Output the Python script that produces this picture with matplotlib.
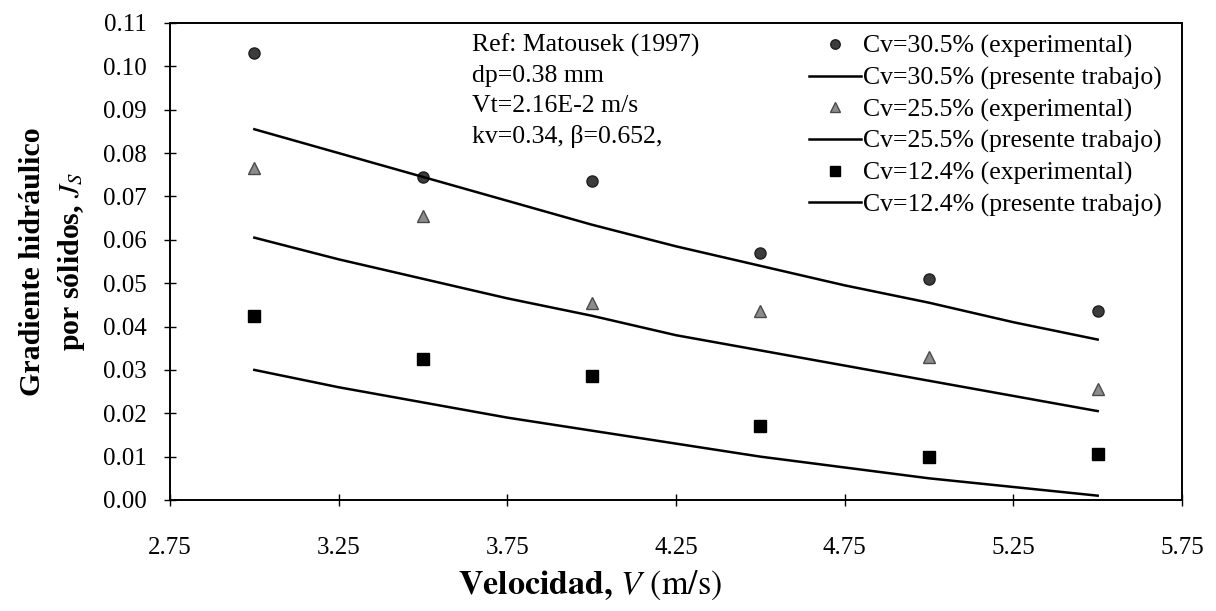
import matplotlib
matplotlib.use("Agg")
import matplotlib.pyplot as plt

# Experimental data
v_exp = [3.0, 3.5, 4.0, 4.5, 5.0, 5.5]
js_305_exp = [0.103, 0.0745, 0.0735, 0.057, 0.051, 0.0435]
js_255_exp = [0.0765, 0.0655, 0.0455, 0.0435, 0.033, 0.0255]
js_124_exp = [0.0425, 0.0325, 0.0285, 0.017, 0.010, 0.0105]

# Model (presente trabajo)
v_mod = [3.0, 3.25, 3.5, 3.75, 4.0, 4.25, 4.5, 4.75, 5.0, 5.25, 5.5]
js_305_mod = [0.0855, 0.080, 0.0745, 0.069, 0.0635, 0.0585, 0.054, 0.0495, 0.0455, 0.041, 0.037]
js_255_mod = [0.0605, 0.0555, 0.051, 0.0465, 0.0425, 0.038, 0.0345, 0.031, 0.0275, 0.024, 0.0205]
js_124_mod = [0.030, 0.026, 0.0225, 0.019, 0.016, 0.013, 0.010, 0.0075, 0.005, 0.003, 0.001]

x_ticks = [2.75, 3.25, 3.75, 4.25, 4.75, 5.25, 5.75]
y_ticks = [0.00, 0.01, 0.02, 0.03, 0.04, 0.05, 0.06, 0.07, 0.08, 0.09, 0.10, 0.11]

plt.rcParams['font.family'] = ['Liberation Serif', 'DejaVu Serif']
plt.rcParams['mathtext.fontset'] = 'stix'

W, H = 1216, 611
fig = plt.figure(figsize=(W / 100, H / 100), dpi=100)
L, R, T, B = 170, 1182, 23, 500
ax = fig.add_axes([L / W, 1 - B / H, (R - L) / W, (B - T) / H])

ax.plot(v_exp, js_305_exp, 'o', color='#3c3c3c', ms=8, mec='#1e1e1e', mew=1.0,
        label='Cv=30.5% (experimental)')
ax.plot(v_mod, js_305_mod, '-', color='black', lw=1.8, label='Cv=30.5% (presente trabajo)')
ax.plot(v_exp, js_255_exp, '^', color='#8c8c8c', ms=8, mec='#4a4a4a', mew=1.0,
        label='Cv=25.5% (experimental)')
ax.plot(v_mod, js_255_mod, '-', color='black', lw=1.8, label='Cv=25.5% (presente trabajo)')
ax.plot(v_exp, js_124_exp, 's', color='black', ms=9, label='Cv=12.4% (experimental)')
ax.plot(v_mod, js_124_mod, '-', color='black', lw=1.8, label='Cv=12.4% (presente trabajo)')

ax.set_xlim(2.75, 5.75)
ax.set_ylim(0.0, 0.11)
ax.set_xticks(x_ticks)
ax.set_xticklabels([f"{t:.2f}" for t in x_ticks])
ax.set_yticks(y_ticks)
ax.set_yticklabels([f"{t:.2f}" for t in y_ticks])
ax.tick_params(axis='both', direction='inout', length=8, width=1, labelsize=18)
ax.tick_params(axis='x', pad=23)
ax.tick_params(axis='y', pad=13)
for s in ax.spines.values():
    s.set_linewidth(1.4)

ax.set_xlabel(r'$\mathbf{Velocidad,}\,V\ \mathrm{(m/s)}$', fontsize=24.5)
ax.xaxis.set_label_coords((590 - L) / (R - L), (B - 585) / (B - T), transform=ax.transAxes)
ax.xaxis.label.set_va('center')
ax.set_ylabel('Gradiente hidráulico\npor sólidos, $J_S$', fontsize=21.5, fontweight='bold',
              linespacing=1.45)
ax.yaxis.set_label_coords((53 - L) / (R - L), 0.5, transform=ax.transAxes)
ax.yaxis.label.set_va('center')

ax.text((472 - L) / (R - L), (B - 34) / (B - T),
        'Ref: Matousek (1997)\ndp=0.38 mm\nVt=2.16E-2 m/s\nkv=0.34, β=0.652,',
        transform=ax.transAxes, ha='left', va='top', fontsize=18.5, linespacing=1.46)

leg = ax.legend(loc='upper right', bbox_to_anchor=((1162 - L) / (R - L), (B - 35) / (B - T)),
                frameon=False, fontsize=18.5, handlelength=2.0, handletextpad=0.1,
                labelspacing=0.32, borderaxespad=0.0, borderpad=0.0, markerscale=0.85)

fig.savefig('out.png', dpi=100)
